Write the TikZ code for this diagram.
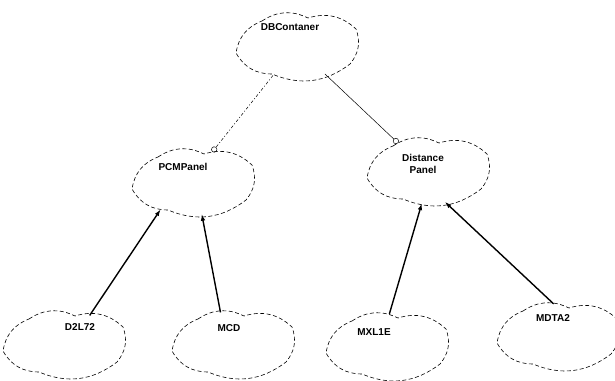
\documentclass[tikz,border=0pt]{standalone}
\usepackage{fontspec}
\setmainfont{Liberation Sans}
\usetikzlibrary{shapes.geometric,arrows.meta}

\tikzset{
  cls/.style={ellipse, minimum width=116bp, minimum height=64bp, inner sep=0pt},
  txt/.style={font=\fontsize{10bp}{12bp}\selectfont\bfseries, align=center},
  has/.style={-{Circle[open,length=6bp]}, line width=0.5bp},
  isa/.style={-{Latex[length=7bp,width=4.5bp]}, line width=1.4bp},
  booch/.pic={
    \draw[line width=0.6bp, dash pattern=on 4bp off 2.5bp]
      (-34,-25) to[bend left=30] (12,-28) to[bend left=30] (60,-17)
      to[bend left=30] (54,18) to[bend left=30] (-24,28)
      to[bend left=30] (-60,7) to[bend left=30] (-34,-25);
  }
}

\begin{document}
\begin{tikzpicture}[x=1bp,y=-1bp]
\useasboundingbox (0,0) rectangle (615,380);
%% classes
\node[cls, label={[txt,xshift=-6bp,yshift=19bp]center:DBContaner}] (dbc) at (296,46) {};
\node[cls, label={[txt,xshift=-9bp,yshift=15bp]center:PCMPanel}] (pcm) at (192,182) {};
\node[cls, label={[txt,xshift=-4bp,yshift=7bp]center:Distance\\Panel}] (dist) at (427,171) {};
\node[cls, label={[txt,xshift=17bp,yshift=17bp]center:D2L72}] (d2l) at (63,344) {};
\node[cls, label={[txt,xshift=-3bp,yshift=16bp]center:MCD}] (mcd) at (232,344) {};
\node[cls, label={[txt,xshift=-12bp,yshift=14bp]center:MXL1E}] (mxl) at (386,346) {};
\node[cls, label={[txt,xshift=-4bp,yshift=18bp]center:MDTA2}] (mdta) at (557,336) {};
\foreach \n in {dbc,pcm,dist,d2l,mcd,mxl,mdta}
  \pic at (\n) {booch};
%% has
\draw[has, dash pattern=on 3bp off 2bp on 1bp off 2bp] (dbc.232) -- (pcm.56);
\draw[has] (dbc.316) -- (dist.136);
%% inherits
\draw[isa] (d2l.47) -- (pcm.221);
\draw[isa] (mcd.110) -- (pcm.287);
\draw[isa] (mxl.84) -- (dist.261);
\draw[isa] (mdta.96) -- (dist.300);
\end{tikzpicture}
\end{document}
